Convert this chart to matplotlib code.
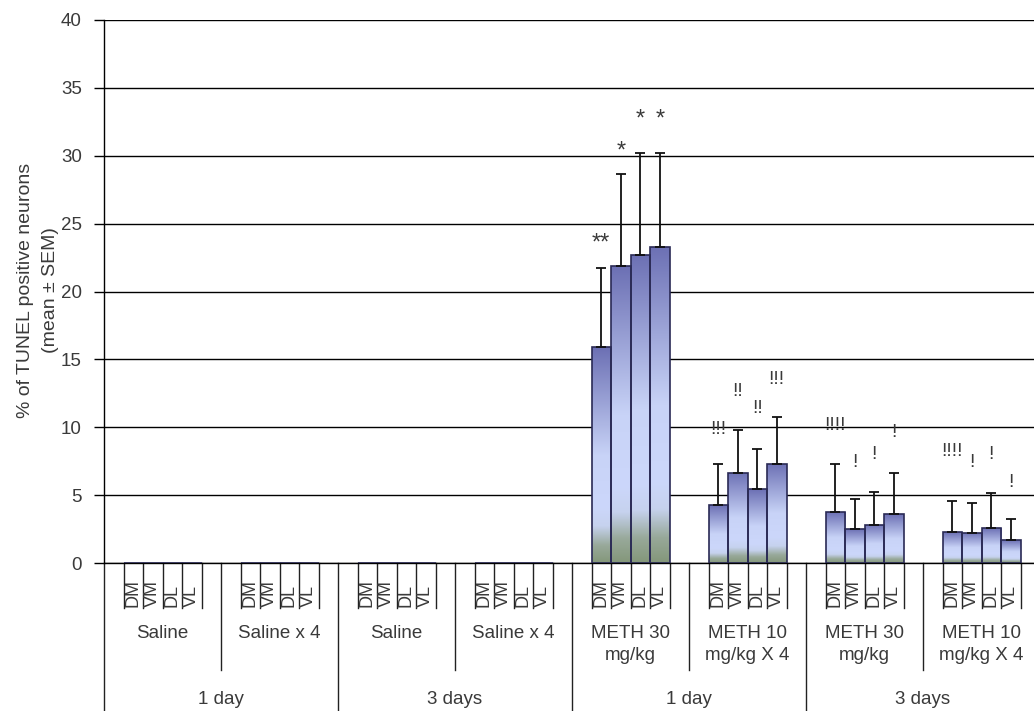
import numpy as np
import matplotlib
matplotlib.use("Agg")
import matplotlib.pyplot as plt
from matplotlib.colors import LinearSegmentedColormap

plt.rcParams['font.family'] = ['Liberation Sans', 'DejaVu Sans']

# --- data ---------------------------------------------------------------
regions = ['DM', 'VM', 'DL', 'VL']
treatments = ['Saline', 'Saline x 4', 'Saline', 'Saline x 4',
              'METH 30\nmg/kg', 'METH 10\nmg/kg X 4', 'METH 30\nmg/kg', 'METH 10\nmg/kg X 4']
times = ['1 day', '3 days', '1 day', '3 days']

# mean % TUNEL positive neurons per treatment (DM, VM, DL, VL)
means = [
    [0, 0, 0, 0],
    [0, 0, 0, 0],
    [0, 0, 0, 0],
    [0, 0, 0, 0],
    [15.9, 21.85, 22.7, 23.3],
    [4.26, 6.64, 5.42, 7.3],
    [3.73, 2.48, 2.82, 3.58],
    [2.28, 2.23, 2.57, 1.67],
]
sems = [
    [0, 0, 0, 0],
    [0, 0, 0, 0],
    [0, 0, 0, 0],
    [0, 0, 0, 0],
    [5.8, 6.8, 7.5, 6.9],
    [3.04, 3.19, 2.98, 3.44],
    [3.57, 2.25, 2.4, 3.06],
    [2.28, 2.16, 2.6, 1.57],
]
# significance marks and their heights
marks = [
    ['', '', '', ''],
    ['', '', '', ''],
    ['', '', '', ''],
    ['', '', '', ''],
    ['**', '*', '*', '*'],
    ['!!!', '!!', '!!', '!!!'],
    ['!!!!', '!', '!', '!'],
    ['!!!!', '!', '!', '!'],
]
mark_y = [
    [0, 0, 0, 0],
    [0, 0, 0, 0],
    [0, 0, 0, 0],
    [0, 0, 0, 0],
    [23.5, 30.3, 32.7, 32.7],
    [9.8, 12.6, 11.4, 13.5],
    [10.1, 7.4, 8.0, 9.6],
    [8.2, 7.4, 8.0, 5.9],
]

# --- layout -------------------------------------------------------------
W, H = 1034, 711
fig = plt.figure(figsize=(W / 100, H / 100), dpi=100)
ax_h = 543
ax = fig.add_axes([104 / W, 148 / H, 936 / W, ax_h / H])

slots = 6  # blank, DM, VM, DL, VL, blank
n_groups = len(treatments)
txt_col = '#3a3a3a'

x_left = []
heights = []
errs = []
for g in range(n_groups):
    for j in range(len(regions)):
        x_left.append(g * slots + 1 + j)
        heights.append(means[g][j])
        errs.append(sems[g][j])
x_left = np.array(x_left, dtype=float)
heights = np.array(heights)
errs = np.array(errs)

bars = ax.bar(x_left, heights, width=1.0, align='edge', facecolor='none',
              edgecolor='#2a2a55', linewidth=1.2, zorder=3)

cmap = LinearSegmentedColormap.from_list(
    'barfill', [(0.0, '#84977a'), (0.08, '#98a99a'), (0.17, '#c6d2ee'),
                (0.26, '#ccd7fb'), (0.5, '#c8d3f7'), (1.0, '#6c70b4')])
grad = np.linspace(0, 1, 256).reshape(-1, 1)
for patch, x, h in zip(bars, x_left, heights):
    if h <= 0:
        continue
    im = ax.imshow(grad, extent=(x, x + 1, 0, h), origin='lower', aspect='auto',
                   cmap=cmap, zorder=2)
    im.set_clip_path(patch)

has = heights > 0
ax.errorbar(x_left[has] + 0.5, heights[has], yerr=[np.zeros(has.sum()), errs[has]],
            fmt='none', ecolor='#111111', elinewidth=1.3, capsize=3.5, capthick=1.3,
            zorder=4)

for g in range(n_groups):
    for j in range(len(regions)):
        m = marks[g][j]
        if m:
            fs = 17 if '*' in m else 14
            ax.text(g * slots + 1 + j + 0.5, mark_y[g][j], m,
                    ha='center', va='center', fontsize=fs, color=txt_col, zorder=5)

ax.set_xlim(0, n_groups * slots)
ax.set_ylim(0, 40)
ax.set_yticks(range(0, 41, 5))
ax.set_xticks([])
ax.yaxis.grid(True, color='black', linewidth=1)
ax.set_axisbelow(True)
ax.tick_params(axis='y', length=7, width=1, direction='out', pad=9,
               labelsize=13.5, labelcolor=txt_col)
for s in ['top', 'right']:
    ax.spines[s].set_visible(False)
ax.spines['left'].set_linewidth(1)
ax.spines['bottom'].set_linewidth(1)

fig.text(38 / W, 1 - 290 / H, '% of TUNEL positive neurons\n(mean \u00b1 SEM)',
         rotation=90, ha='center', va='center', fontsize=14, color=txt_col,
         linespacing=1.65, multialignment='center')

# --- multi-level category axis ------------------------------------------
tr = ax.get_xaxis_transform()


def yf(px):
    return -px / ax_h


for g in range(n_groups):
    for k in range(1, 6):
        ax.plot([g * slots + k] * 2, [0, yf(45)], color='#222222', lw=1,
                transform=tr, clip_on=False)
    for j, r in enumerate(regions):
        ax.text(g * slots + 1 + j + 0.5, yf(44), r, rotation=90, ha='center',
                va='bottom', fontsize=13, color=txt_col, transform=tr)
    ax.text(g * slots + 3, yf(62), treatments[g], ha='center', va='top',
            fontsize=13.5, color=txt_col, linespacing=1.4, transform=tr)

for g in range(1, n_groups, 2):
    ax.plot([g * slots] * 2, [0, yf(107)], color='#222222', lw=1,
            transform=tr, clip_on=False)
for d in range(len(times) + 1):
    ax.plot([d * 2 * slots] * 2, [0, yf(150)], color='#222222', lw=1,
            transform=tr, clip_on=False)
for d, t in enumerate(times):
    ax.text(d * 2 * slots + slots, yf(136), t, ha='center', va='center',
            fontsize=13.5, color=txt_col, transform=tr)

fig.savefig('out.png', dpi=100)
